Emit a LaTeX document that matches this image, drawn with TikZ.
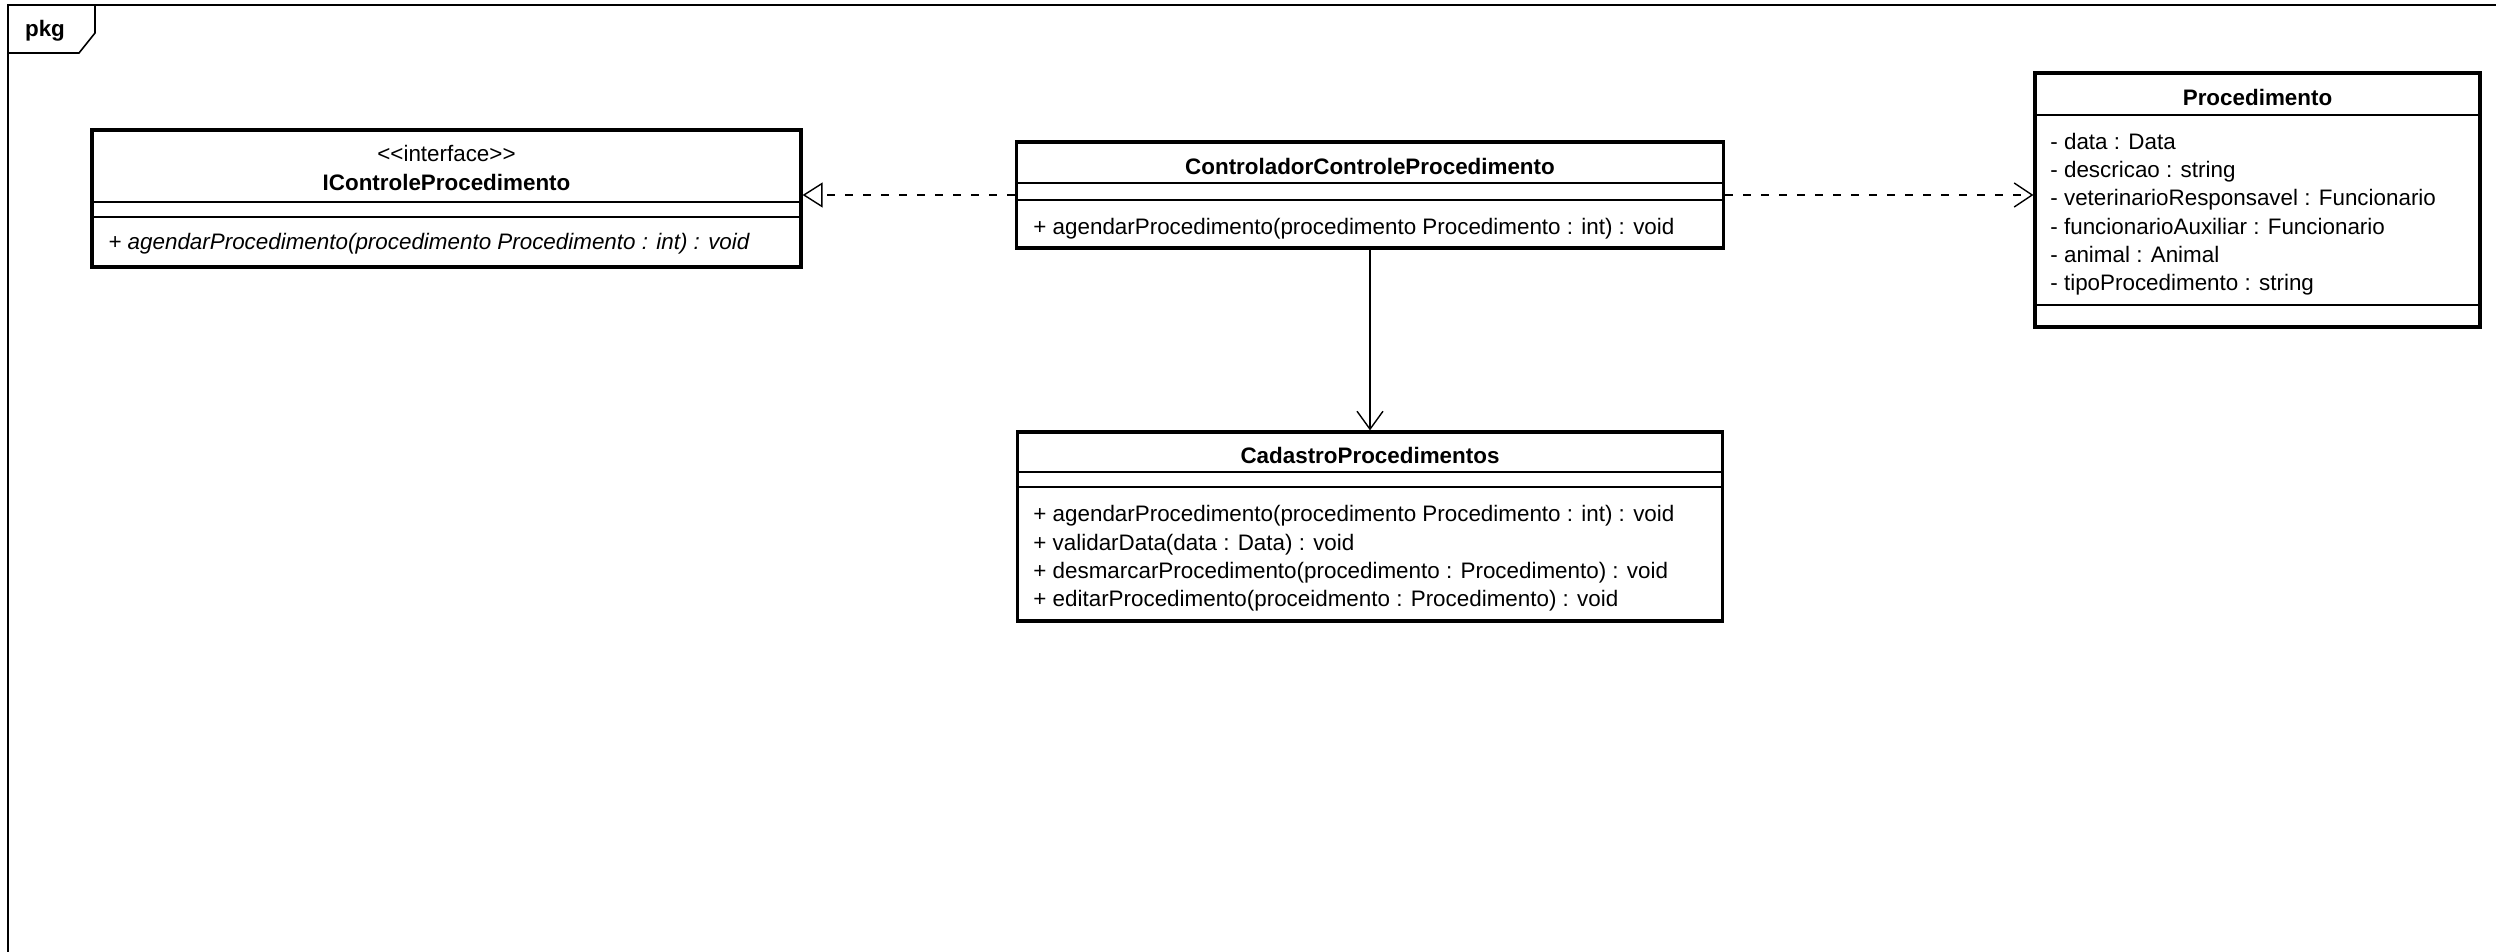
\documentclass[tikz,border=0pt]{standalone}
\usepackage{fontspec}
\setmainfont{Liberation Sans}
\usetikzlibrary{arrows.meta,positioning,calc}

\begin{document}
\begin{tikzpicture}[
  x=0.5pt,y=-0.5pt,
  cls/.style={draw,line width=1.6pt,inner sep=0pt},
  sep/.style={line width=0.6pt},
  cname/.style={font=\fontsize{11.2}{14}\selectfont\bfseries,anchor=base,inner sep=0pt},
  stereo/.style={font=\fontsize{11.2}{14}\selectfont,anchor=base,inner sep=0pt},
  member/.style={font=\fontsize{11.2}{14}\selectfont,anchor=base west,inner sep=0pt},
  real/.style={-{Triangle[open,length=10pt,width=12.5pt]},line width=0.7pt,dash pattern=on 4pt off 5pt},
  dep/.style={-{Straight Barb[length=9pt,width=12pt]},line width=0.7pt,dash pattern=on 4pt off 5pt},
  assoc/.style={-{Straight Barb[length=9pt,width=13pt]},line width=0.7pt}
]
\useasboundingbox (0,0) rectangle (2496,952);

% Package frame
\draw[line width=0.8pt] (8,1000) -- (8,5) -- (2560,5);
\draw[line width=0.8pt] (8,53) -- (79,53) -- (95,33) -- (95,5);
\node[cname] (pkg) at (45,37) {pkg};

% Classes
\node[cls,minimum width=354.5pt,minimum height=68.5pt] (ictrl) at (446.5,198.5) {};
\node[stereo] (ictrlst)   at (446.5,162) {{<}{<}interface{>}{>}};
\node[cname]  (ictrlname) at (446.5,191) {IControleProcedimento};
\node[member] (ictrlop)   at (108,250) {\itshape + agendarProcedimento(procedimento Procedimento : int) : void};
\draw[sep] (ictrl.west |- 0,202) -- (ictrl.east |- 0,202);
\draw[sep] (ictrl.west |- 0,217) -- (ictrl.east |- 0,217);

\node[cls,minimum width=353.5pt,minimum height=53pt] (ctrl) at (1370,195) {};
\node[cname]  (ctrlname) at (1370,175) {ControladorControleProcedimento};
\node[member] (ctrlop)   at (1033,235) {+ agendarProcedimento(procedimento Procedimento : int) : void};
\draw[sep] (ctrl.west |- 0,183) -- (ctrl.east |- 0,183);
\draw[sep] (ctrl.west |- 0,200) -- (ctrl.east |- 0,200);

\node[cls,minimum width=222.5pt,minimum height=127pt] (proc) at (2257.5,200) {};
\node[cname] (procname) at (2257.5,106) {Procedimento};
\node[member] (procat1) at (2050,150) {- data : Data};
\node[member] (procat2) at (2050,178) {- descricao : string};
\node[member] (procat3) at (2050,206) {- veterinarioResponsavel : Funcionario};
\node[member] (procat4) at (2050,235) {- funcionarioAuxiliar : Funcionario};
\node[member] (procat5) at (2050,263) {- animal : Animal};
\node[member] (procat6) at (2050,291) {- tipoProcedimento : string};
\draw[sep] (proc.west |- 0,115) -- (proc.east |- 0,115);
\draw[sep] (proc.west |- 0,305) -- (proc.east |- 0,305);

\node[cls,minimum width=352.5pt,minimum height=94.5pt] (cad) at (1370,526.5) {};
\node[cname]  (cadname) at (1370,463) {CadastroProcedimentos};
\node[member] (cadop1) at (1033,521) {+ agendarProcedimento(procedimento Procedimento : int) : void};
\node[member] (cadop2) at (1033,550) {+ validarData(data : Data) : void};
\node[member] (cadop3) at (1033,578) {+ desmarcarProcedimento(procedimento : Procedimento) : void};
\node[member] (cadop4) at (1033,606) {+ editarProcedimento(proceidmento : Procedimento) : void};
\draw[sep] (cad.west |- 0,472) -- (cad.east |- 0,472);
\draw[sep] (cad.west |- 0,487) -- (cad.east |- 0,487);

% Relationships
\draw[real]  (ctrl.west) -- (ctrl.west -| ictrl.east);
\draw[dep]   (ctrl.east) -- (ctrl.east -| proc.west);
\draw[assoc] (ctrl.south) -- (ctrl.south |- cad.north);
\end{tikzpicture}
\end{document}
